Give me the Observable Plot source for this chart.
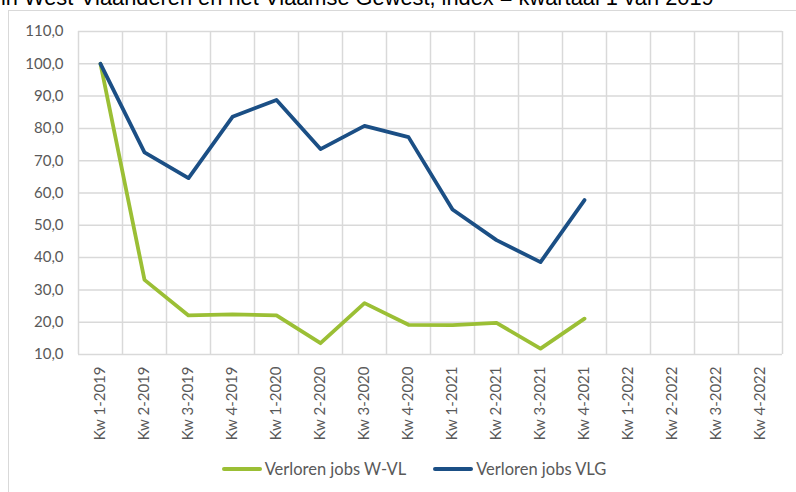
<!DOCTYPE html>
<html>
<head>
<meta charset="utf-8">
<script src="https://cdn.jsdelivr.net/npm/d3@7"></script>
<script src="https://cdn.jsdelivr.net/npm/@observablehq/plot@0.6"></script>
<style>
  html, body { margin: 0; padding: 0; background: #fff; }
  #wrap { position: relative; width: 796px; height: 492px; overflow: hidden; }
  #title { position: absolute; top: -15px; left: 1px; font-family: "Liberation Sans", Arial, sans-serif; font-size: 21.8px; color: #000; white-space: nowrap; }
  #frame { position: absolute; left: 8px; top: 10px; width: 900px; height: 600px; border: 1.5px solid #d9d9d9; box-sizing: border-box; }
  #chart { position: absolute; left: 0; top: 0; }
  #legend { position: absolute; top: 459px; left: 16px; width: 796px; display: flex; justify-content: center; gap: 27px; font-family: Lato, sans-serif; font-size: 16.5px; color: #595959; }
  .item { display: flex; align-items: center; }
  .sw { display: inline-block; width: 40px; height: 4px; border-radius: 2px; margin-right: 3px; }
</style>
</head>
<body>
<div id="wrap">
  <div id="title">in West-Vlaanderen en het Vlaamse Gewest, index = kwartaal 1 van 2019</div>
  <div id="frame"></div>
  <div id="chart"></div>
  <div id="legend"></div>
</div>
<script>
const quarters = ["Kw 1-2019","Kw 2-2019","Kw 3-2019","Kw 4-2019","Kw 1-2020","Kw 2-2020","Kw 3-2020","Kw 4-2020","Kw 1-2021","Kw 2-2021","Kw 3-2021","Kw 4-2021","Kw 1-2022","Kw 2-2022","Kw 3-2022","Kw 4-2022"];
const wvl = [100, 33.1, 22.1, 22.4, 22.1, 13.5, 25.9, 19.2, 19.1, 19.8, 11.8, 21.1, null, null, null, null];
const vlg = [100, 72.6, 64.6, 83.6, 88.8, 73.6, 80.8, 77.3, 54.9, 45.4, 38.6, 57.8, null, null, null, null];
const seriesNames = ["Verloren jobs W-VL", "Verloren jobs VLG"];
const seriesColors = ["#9bbf35", "#1b4f85"];
const yTicks = [10, 20, 30, 40, 50, 60, 70, 80, 90, 100, 110];

const rows = [];
quarters.forEach((q, i) => {
  rows.push({i, q, s: seriesNames[0], v: wvl[i]});
  rows.push({i, q, s: seriesNames[1], v: vlg[i]});
});

const idx = d3.range(quarters.length);
const bounds = d3.range(quarters.length + 1).map(i => i - 0.5);

const chart = Plot.plot({
  width: 796,
  height: 450,
  marginLeft: 78,
  marginRight: 14,
  marginTop: 31,
  marginBottom: 96,
  style: {fontFamily: "Lato, sans-serif", fontSize: "15px", color: "#595959", background: "transparent"},
  x: {type: "linear", domain: [-0.5, quarters.length - 0.5]},
  y: {domain: [10, 110]},
  color: {domain: seriesNames, range: seriesColors},
  marks: [
    Plot.gridY(yTicks, {stroke: "#d9d9d9", strokeOpacity: 1, strokeWidth: 1.5}),
    Plot.gridX(bounds, {stroke: "#d9d9d9", strokeOpacity: 1, strokeWidth: 1.5}),
    Plot.axisY(yTicks, {tickSize: 0, tickPadding: 15, label: null, fill: "#595959",
      tickFormat: d => d.toFixed(1).replace(".", ",")}),
    Plot.axisX(idx, {tickSize: 0, tickPadding: 12, tickRotate: -90, label: null, fill: "#595959",
      tickFormat: i => quarters[i]}),
    Plot.line(rows.filter(d => d.s === seriesNames[0]), {x: "i", y: "v", stroke: "s", strokeWidth: 3.8, strokeLinejoin: "round", strokeLinecap: "round"}),
    Plot.line(rows.filter(d => d.s === seriesNames[1]), {x: "i", y: "v", stroke: "s", strokeWidth: 3.8, strokeLinejoin: "round", strokeLinecap: "round"})
  ]
});
document.getElementById("chart").appendChild(chart);

const legend = document.getElementById("legend");
seriesNames.forEach((n, k) => {
  const it = document.createElement("div");
  it.className = "item";
  it.innerHTML = `<span class="sw" style="background:${seriesColors[k]}"></span><span>${n}</span>`;
  legend.appendChild(it);
});
</script>
</body>
</html>
